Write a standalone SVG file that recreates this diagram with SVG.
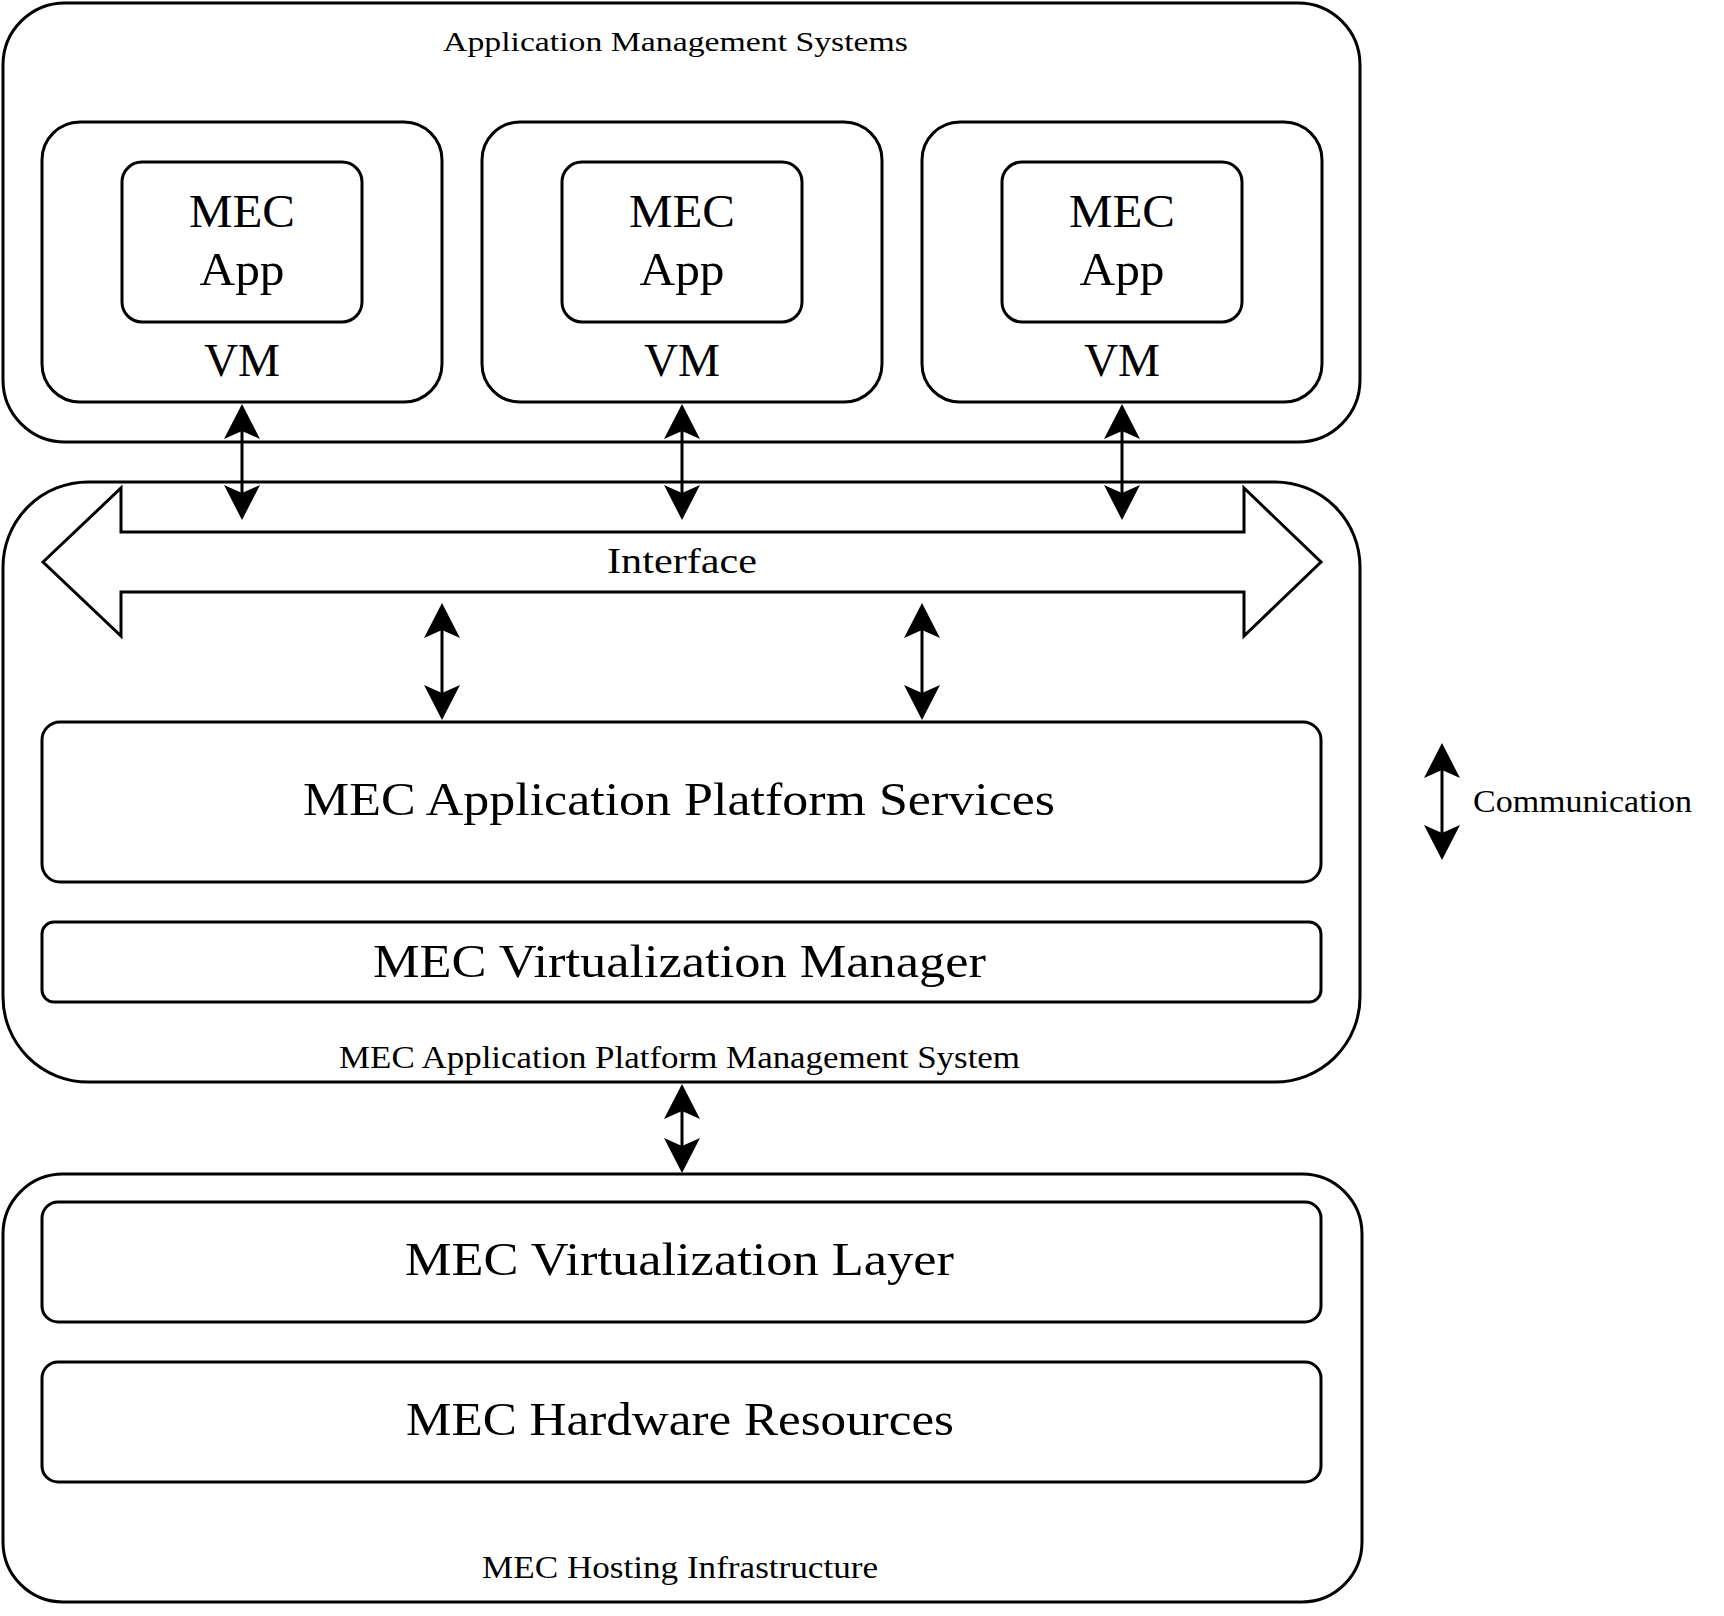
<svg xmlns="http://www.w3.org/2000/svg" width="1724" height="1616" viewBox="0 0 1724 1616">
<style>
.box{fill:none;stroke:#000;stroke-width:3}
.conn{stroke:#000;stroke-width:3;fill:none}
text{font-family:"Liberation Serif","Times New Roman",serif;fill:#000}
.big{font-size:47px}
.mid{font-size:36px}
.sm{font-size:32px}
.xs{font-size:27px}
</style>
<defs>
<marker id="ah" markerUnits="userSpaceOnUse" markerWidth="60" markerHeight="60" refX="0" refY="0" viewBox="-30 -30 60 60" orient="auto-start-reverse" overflow="visible">
<path d="M10,0 L-25,-18 L-17,0 L-25,18 Z" fill="#000"/>
</marker>
</defs>
<rect width="1724" height="1616" fill="#fff"/>

<g id="app-mgmt-systems">
<rect class="box" x="3" y="3" width="1357" height="439" rx="62"/>
<text class="xs" x="443" y="51" textLength="465" lengthAdjust="spacingAndGlyphs">Application Management Systems</text>
</g>

<g id="vm1">
<rect class="box" x="42" y="122" width="400" height="280" rx="38"/>
<text class="big" x="242" y="376" text-anchor="middle" textLength="76" lengthAdjust="spacingAndGlyphs">VM</text>
</g>
<g id="app1">
<rect class="box" x="122" y="162" width="240" height="160" rx="20"/>
<text class="big" x="242" y="227" text-anchor="middle" textLength="106" lengthAdjust="spacingAndGlyphs">MEC</text>
<text class="big" x="242" y="285" text-anchor="middle" textLength="85" lengthAdjust="spacingAndGlyphs">App</text>
</g>

<g id="vm2">
<rect class="box" x="482" y="122" width="400" height="280" rx="38"/>
<text class="big" x="682" y="376" text-anchor="middle" textLength="76" lengthAdjust="spacingAndGlyphs">VM</text>
</g>
<g id="app2">
<rect class="box" x="562" y="162" width="240" height="160" rx="20"/>
<text class="big" x="682" y="227" text-anchor="middle" textLength="106" lengthAdjust="spacingAndGlyphs">MEC</text>
<text class="big" x="682" y="285" text-anchor="middle" textLength="85" lengthAdjust="spacingAndGlyphs">App</text>
</g>

<g id="vm3">
<rect class="box" x="922" y="122" width="400" height="280" rx="38"/>
<text class="big" x="1122" y="376" text-anchor="middle" textLength="76" lengthAdjust="spacingAndGlyphs">VM</text>
</g>
<g id="app3">
<rect class="box" x="1002" y="162" width="240" height="160" rx="20"/>
<text class="big" x="1122" y="227" text-anchor="middle" textLength="106" lengthAdjust="spacingAndGlyphs">MEC</text>
<text class="big" x="1122" y="285" text-anchor="middle" textLength="85" lengthAdjust="spacingAndGlyphs">App</text>
</g>

<g id="platform-mgmt-system">
<rect class="box" x="3" y="482" width="1357" height="600" rx="85"/>
<text class="sm" x="339" y="1068" textLength="681" lengthAdjust="spacingAndGlyphs">MEC Application Platform Management System</text>
</g>

<g id="interface">
<polygon class="box" points="43,562 121,488 121,532 1244,532 1244,488 1321,562 1244,636 1244,592 121,592 121,636"/>
<text class="mid" x="607" y="573" textLength="150" lengthAdjust="spacingAndGlyphs">Interface</text>
</g>

<g id="platform-services">
<rect class="box" x="42" y="722" width="1279" height="160" rx="18"/>
<text class="big" x="303" y="815" textLength="752" lengthAdjust="spacingAndGlyphs">MEC Application Platform Services</text>
</g>

<g id="virtualization-manager">
<rect class="box" x="42" y="922" width="1279" height="80" rx="12"/>
<text class="big" x="373" y="977" textLength="613" lengthAdjust="spacingAndGlyphs">MEC Virtualization Manager</text>
</g>

<g id="hosting-infrastructure">
<rect class="box" x="3" y="1174" width="1359" height="428" rx="60"/>
<text class="sm" x="482" y="1578" textLength="396" lengthAdjust="spacingAndGlyphs">MEC Hosting Infrastructure</text>
</g>

<g id="virtualization-layer">
<rect class="box" x="42" y="1202" width="1279" height="120" rx="16"/>
<text class="big" x="405" y="1275" textLength="549" lengthAdjust="spacingAndGlyphs">MEC Virtualization Layer</text>
</g>

<g id="hardware-resources">
<rect class="box" x="42" y="1362" width="1279" height="120" rx="16"/>
<text class="big" x="406" y="1435" textLength="548" lengthAdjust="spacingAndGlyphs">MEC Hardware Resources</text>
</g>

<g id="legend">
<line class="conn" x1="1442" y1="753" x2="1442" y2="850" marker-start="url(#ah)" marker-end="url(#ah)"/>
<text class="sm" x="1473" y="812" textLength="219" lengthAdjust="spacingAndGlyphs">Communication</text>
</g>

<g id="connectors">
<line class="conn" x1="242" y1="414" x2="242" y2="510" marker-start="url(#ah)" marker-end="url(#ah)"/>
<line class="conn" x1="682" y1="414" x2="682" y2="510" marker-start="url(#ah)" marker-end="url(#ah)"/>
<line class="conn" x1="1122" y1="414" x2="1122" y2="510" marker-start="url(#ah)" marker-end="url(#ah)"/>
<line class="conn" x1="442" y1="613" x2="442" y2="710" marker-start="url(#ah)" marker-end="url(#ah)"/>
<line class="conn" x1="922" y1="613" x2="922" y2="710" marker-start="url(#ah)" marker-end="url(#ah)"/>
<line class="conn" x1="682" y1="1094" x2="682" y2="1163" marker-start="url(#ah)" marker-end="url(#ah)"/>
</g>
</svg>
